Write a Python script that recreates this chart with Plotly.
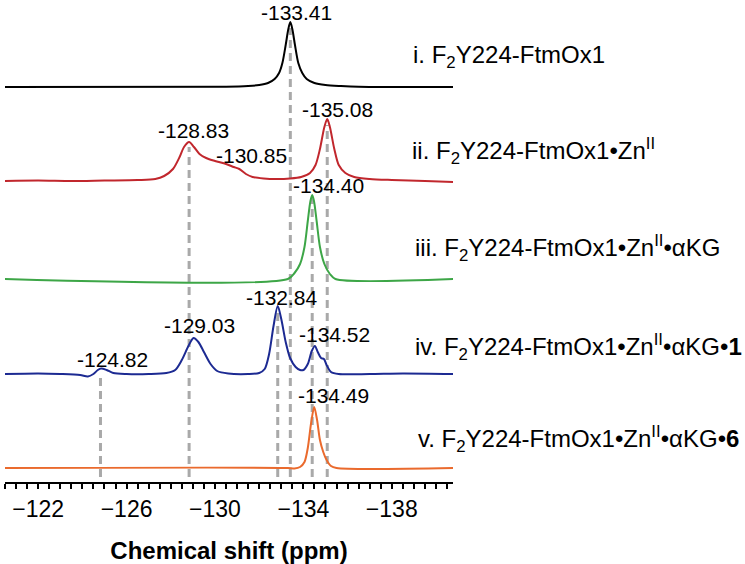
import plotly.graph_objects as go

# ---- spectra (ppm, intensity above baseline in arbitrary units) ----
ppm_i = [-120.5, -130.5, -131.5, -132.0, -132.4, -132.7, -132.9, -133.05, -133.2, -133.32,
         -133.41, -133.5, -133.62, -133.77, -133.95, -134.15, -134.5, -135.0, -135.7, -136.5, -140.8]
int_i = [0, 0.3, 1, 2, 4, 8, 14, 24, 42, 58, 65, 58, 42, 24, 14, 8, 4, 2, 1, 0.3, 0]

ppm_ii = [-120.5, -122.0, -123.5, -125.0, -126.5, -127.3, -127.7, -128.1, -128.4, -128.6,
          -128.83, -129.05, -129.3, -129.6, -130.0, -130.5, -130.85, -131.1, -131.4, -131.7,
          -132.2, -132.8, -133.4, -133.9, -134.3, -134.55, -134.75, -134.95, -135.08, -135.2,
          -135.4, -135.6, -135.9, -136.3, -137.0, -138.0, -139.5, -140.8]
int_ii = [0, 0.5, 0, 0.5, 1, 2, 5, 12, 24, 34, 39, 34, 27, 23, 20, 17, 14, 12, 7, 4,
          2.5, 2, 2.5, 4, 8, 16, 32, 54, 62, 54, 32, 16, 8, 4, 2, 1, 0, -1]

ppm_iii = [-120.5, -133.3, -133.6, -133.85, -134.05, -134.2, -134.32, -134.4, -134.48, -134.6,
           -134.75, -134.95, -135.2, -135.45, -140.8]
int_iii = [0, 0, 6, 15, 32, 58, 78, 84, 78, 58, 32, 15, 5, 0, 0]

ppm_iv = [-120.5, -122.0, -123.0, -123.9, -124.25, -124.5, -124.7, -124.85, -125.1, -125.4,
          -126.0, -127.0, -127.8, -128.2, -128.5, -128.8, -129.03, -129.25, -129.5, -129.8,
          -130.1, -130.6, -131.5, -132.0, -132.25, -132.45, -132.65, -132.84, -133.0, -133.2,
          -133.4, -133.65, -133.85, -134.0, -134.2, -134.38, -134.52, -134.65, -134.8, -134.93,
          -135.05, -135.25, -135.6, -137.0, -138.5, -140.8]
int_iv = [0, 0.5, 0, -1, -2.5, 0, 4, 5.5, 4, 1,
          0, 0, 1, 4, 14, 28, 36, 32, 22, 10,
          3, 0.5, 0, 1, 5, 20, 48, 68, 55, 32,
          16, 7, 4, 4, 10, 23, 28, 22, 16, 15,
          9, 2, 0, 0, 0.5, 0]

ppm_v = [-120.5, -133.3, -133.6, -133.85, -134.05, -134.2, -134.35, -134.49, -134.62, -134.75,
         -134.9, -135.05, -135.25, -135.5, -140.8]
int_v = [0, 0, -0.5, 1, 6, 20, 45, 61, 48, 28, 16, 8, 2, 0, 0]

names = [
    "i. F<sub>2</sub>Y224-FtmOx1",
    "ii. F<sub>2</sub>Y224-FtmOx1•Zn<sup>II</sup>",
    "iii. F<sub>2</sub>Y224-FtmOx1•Zn<sup>II</sup>•αKG",
    "iv. F<sub>2</sub>Y224-FtmOx1•Zn<sup>II</sup>•αKG•<b>1</b>",
    "v. F<sub>2</sub>Y224-FtmOx1•Zn<sup>II</sup>•αKG•<b>6</b>",
]
colors = ["#000000", "#c1272d", "#3da647", "#1c2a92", "#ea6a2d"]

# peak labels
peak_labels = ["-133.41", "-128.83", "-130.85", "-135.08", "-134.40",
               "-132.84", "-129.03", "-134.52", "-124.82", "-134.49"]
# dashed reference lines
ref_ppm = [-133.41, -135.08, -128.83, -134.40, -132.84, -124.82]

# ---- layout helpers (pixel geometry) ----
W, H = 745, 564
L, R, T, B = 5, 292, 0, 82
PW, PH = W - L - R, H - T - B
def px(x):
    return (x - L) / PW
def py(y):
    return (H - B - y) / PH

offsets = [395, 301, 203, 108, 14]          # baseline of each trace (y units = px)
label_xy = [(296, 12), (193, 130), (251, 156), (337, 110), (328, 186),
            (282, 297), (199, 325), (334, 334), (112, 359), (333, 395)]
ref_top = [454, 357, 335, 284, 172, 106]
ref_bottom = 5
name_xy = [(411, 56), (410, 151), (413, 248), (413, 347), (416, 439)]

fig = go.Figure()

# dashed guide lines
for v, top in zip(ref_ppm, ref_top):
    fig.add_trace(go.Scatter(x=[v, v], y=[ref_bottom, top], mode="lines",
                             line=dict(color="#a9a9a9", width=3, dash="8px,5px"),
                             hoverinfo="skip", showlegend=False))

spectra = [(ppm_i, int_i), (ppm_ii, int_ii), (ppm_iii, int_iii), (ppm_iv, int_iv), (ppm_v, int_v)]
for (xs, ys), off, c in zip(spectra, offsets, colors):
    fig.add_trace(go.Scatter(x=xs, y=[off + y for y in ys], mode="lines",
                             line=dict(color=c, width=2, shape="spline", smoothing=0.8),
                             showlegend=False))

font = "Arial, Liberation Sans, sans-serif"
for t, (x, y) in zip(peak_labels, label_xy):
    fig.add_annotation(text=t, x=px(x), y=py(y), xref="paper", yref="paper",
                       showarrow=False, xanchor="center", yanchor="middle",
                       font=dict(size=21, color="black", family=font))
for t, (x, y) in zip(names, name_xy):
    fig.add_annotation(text=t, x=px(x), y=py(y), xref="paper", yref="paper",
                       showarrow=False, xanchor="left", yanchor="middle",
                       font=dict(size=24, color="black", family=font))

fig.update_layout(
    width=W, height=H,
    margin=dict(l=L, r=R, t=T, b=B),
    plot_bgcolor="white", paper_bgcolor="white",
    font=dict(family=font, color="black"),
)
fig.update_xaxes(
    range=[-120.5, -140.77], showgrid=False, zeroline=False,
    showline=True, linecolor="black", linewidth=2,
    tick0=-122, dtick=4, ticks="outside", ticklen=5, tickwidth=1.5, tickcolor="black",
    minor=dict(dtick=0.5, ticks="outside", ticklen=5, tickwidth=1.5, tickcolor="black"),
    tickfont=dict(size=23),
    title=dict(text="<b>Chemical shift (ppm)</b>", font=dict(size=24), standoff=22),
)
fig.update_yaxes(range=[0, PH], visible=False)

# page body has a default 8px margin; drop it so the figure sits at the corner
fig.write_html("out.html", config={"displayModeBar": False},
               post_script="document.body.style.margin='0';")
